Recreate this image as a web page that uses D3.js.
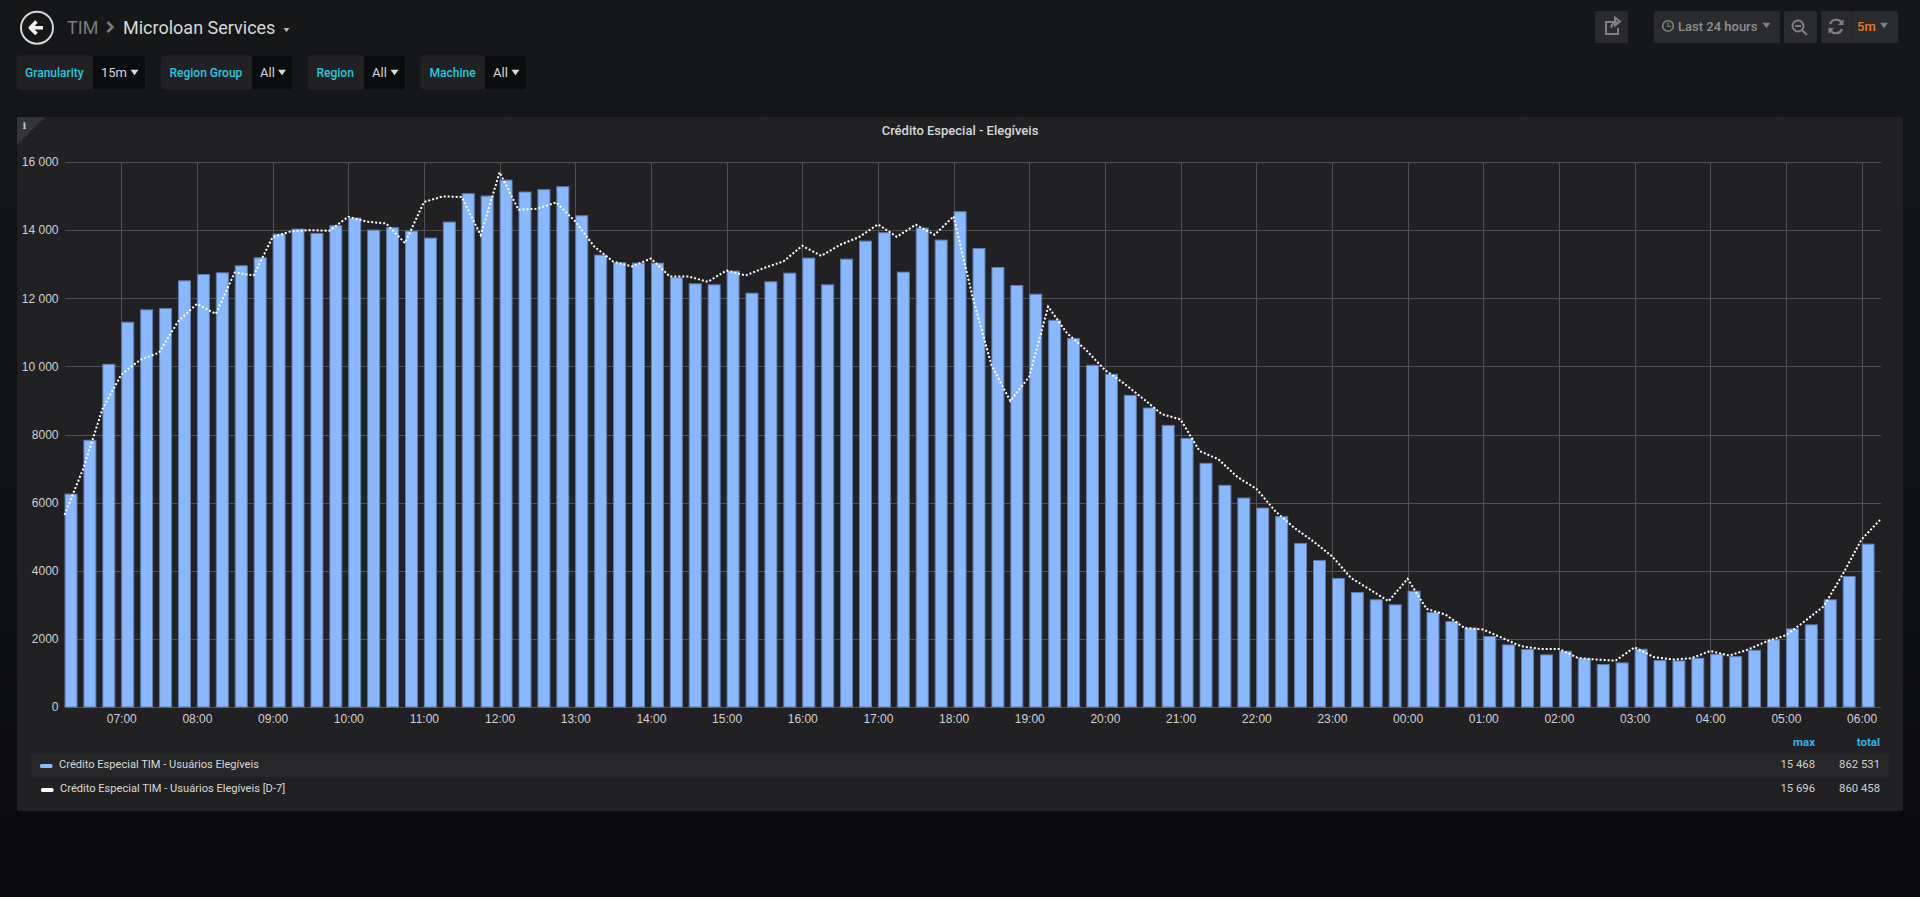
<!DOCTYPE html>
<html lang="en">
<head>
<meta charset="UTF-8">
<title>Crédito Especial - Elegíveis</title>
<script src="https://cdnjs.cloudflare.com/ajax/libs/d3/7.8.5/d3.min.js"></script>
<style>
    html, body { margin: 0; padding: 0; background: #0c0d0f; overflow: hidden; }
    body { height: 897px; background: linear-gradient(#161719 0%, #0d0e10 75%, #09090b 100%); }
    svg { display: block; font-family: Roboto, sans-serif; }
    .grid line { stroke: #505052; stroke-width: 1px; shape-rendering: crispEdges; }
    .tick-label { fill: #d0d0d1; font-size: 12px; }
    .legend-text { fill: #d8d8d9; font-size: 11.1px; }
    .legend-value { fill: #d0d0d1; font-size: 11.3px; }
</style>
</head>
<body>
<svg id="chart" width="1920" height="897"></svg>
<script>
// 15 min buckets, first one at 06:15
const startTime = new Date(2019, 0, 1, 6, 15);
const endTime = new Date(2019, 0, 2, 6, 15);

const eligibleUsers = [
    6250, 7830, 10061, 11296, 11659, 11698, 12511, 12697, 12746, 12952, 13187, 13883,
    14030, 13903, 14128, 14354, 14000, 14069, 13971, 13766, 14236, 15069, 15000, 15468,
    15118, 15187, 15275, 14422, 13266, 13040, 13030, 13030, 12600, 12423, 12394, 12795,
    12149, 12482, 12737, 13178, 12394, 13148, 13677, 13922, 12766, 14060, 13707, 14540,
    13461, 12902, 12373, 12118, 11354, 10815, 10031, 9766, 9149, 8777, 8267, 7885,
    7154, 6507, 6135, 5841, 5586, 4802, 4302, 3773, 3361, 3146, 2999, 3400,
    2773, 2509, 2313, 2068, 1823, 1686, 1529, 1637, 1421, 1245, 1294, 1695,
    1362, 1352, 1431, 1548, 1480, 1666, 1970, 2293, 2411, 3146, 3832, 4782
];

const eligibleUsersD7 = [
    5640, 7010, 8740, 9757, 10190, 10404, 11316, 11835, 11541, 12756, 12668, 13795,
    13971, 14000, 13981, 14393, 14246, 14197, 13619, 14824, 14991, 14971, 13854, 15696,
    14599, 14628, 14814, 14256, 13521, 13080, 12933, 13168, 12639, 12639, 12482, 12815,
    12668, 12893, 13080, 13540, 13246, 13570, 13795, 14168, 13805, 14158, 13864, 14403,
    12050, 10041, 8982, 9698, 11756, 10972, 10482, 9894, 9502, 9061, 8600, 8443,
    7517, 7272, 6752, 6409, 5753, 5263, 4871, 4430, 3793, 3450, 3107, 3763,
    2881, 2715, 2323, 2274, 2029, 1784, 1705, 1705, 1441, 1392, 1362, 1754,
    1470, 1392, 1431, 1646, 1509, 1686, 1931, 2107, 2519, 2960, 3891, 4920, 5508
];

const yTicks = [0, 2000, 4000, 6000, 8000, 10000, 12000, 14000, 16000];
const seriesNames = ["Crédito Especial TIM - Usuários Elegíveis", "Crédito Especial TIM - Usuários Elegíveis [D-7]"];
const seriesColors = ["#8ab8ff", "#ffffff"];
const legendColumns = ["max", "total"];
const legendMax = ["15 468", "15 696"];
const legendTotal = ["862 531", "860 458"];
const variables = [
    ["Granularity", "15m"],
    ["Region Group", "All"],
    ["Region", "All"],
    ["Machine", "All"]
];

const svg = d3.select("#chart");

// ---- panel
svg.append("rect").attr("x", 17).attr("y", 117).attr("width", 1886).attr("height", 694).attr("rx", 2).attr("fill", "#212124");
svg.append("path").attr("d", "M17 117H45L17 145Z").attr("fill", "#34353a");
svg.append("text").attr("x", 24.5).attr("y", 129).attr("fill", "#c8c8c8").attr("font-size", 10)
    .attr("font-family", "DejaVu Serif").attr("font-weight", "bold").attr("text-anchor", "middle").text("i");
svg.append("text").attr("x", 960).attr("y", 134.5).attr("text-anchor", "middle")
    .attr("fill", "#d8d9da").attr("font-size", 13).attr("font-weight", 500).text("Crédito Especial - Elegíveis");

// ---- scales
const x = d3.scaleTime().domain([startTime, endTime]).range([64.5, 1880.5]);
const y = d3.scaleLinear().domain([0, 16000]).range([707, 162]);
const timeAt = i => d3.timeMinute.offset(startTime, i * 15);
const barWidth = (x(timeAt(1)) - x(timeAt(0))) * 0.66;

// ---- grid + axes
const xAxis = d3.axisBottom(x)
    .ticks(d3.timeHour.every(1))
    .tickFormat(d3.timeFormat("%H:%M"))
    .tickSize(-(y(0) - y(16000)))
    .tickPadding(7);
const xG = svg.append("g").attr("class", "grid").attr("transform", `translate(0,${y(0)})`).call(xAxis);
xG.select(".domain").remove();
xG.selectAll("text").attr("class", "tick-label");

const yAxis = d3.axisLeft(y)
    .tickValues(yTicks)
    .tickFormat(d => d < 10000 ? String(d) : d3.format(",")(d).replace(",", " "))
    .tickSize(-(x(endTime) - x(startTime)))
    .tickPadding(6);
const yG = svg.append("g").attr("class", "grid").attr("transform", `translate(${x(startTime)},0)`).call(yAxis);
yG.select(".domain").remove();
yG.selectAll("text").attr("class", "tick-label");

// ---- bars
svg.selectAll("rect.bar")
    .data(eligibleUsers)
    .join("rect")
    .attr("class", "bar")
    .attr("x", (d, i) => x(timeAt(i)) + 0.5)
    .attr("y", d => y(d))
    .attr("width", barWidth - 0.5)
    .attr("height", d => y(0) - y(d))
    .attr("fill", seriesColors[0])
    .attr("stroke", "#5f7dac")
    .attr("stroke-width", 1);

// ---- D-7 line
const line = d3.line().x((d, i) => x(timeAt(i))).y(d => y(d));
svg.append("path")
    .attr("d", line(eligibleUsersD7))
    .attr("fill", "none")
    .attr("stroke", seriesColors[1])
    .attr("stroke-width", 2)
    .attr("stroke-dasharray", "2,2");

// ---- legend
svg.append("rect").attr("x", 30).attr("y", 753).attr("width", 1860).attr("height", 24).attr("fill", "#262628");
legendColumns.forEach((c, i) => {
    svg.append("text").attr("x", [1815, 1880][i]).attr("y", 746).attr("text-anchor", "end")
        .attr("fill", "#33b5e5").attr("font-size", 11.5).attr("font-weight", 700).text(c);
});
seriesNames.forEach((name, i) => {
    const cy = 765 + i * 24;
    svg.append("rect").attr("x", 40 + i).attr("y", cy - 1).attr("width", 12.5).attr("height", 4).attr("rx", 1.5).attr("fill", seriesColors[i]);
    svg.append("text").attr("class", "legend-text").attr("x", 59 + i).attr("y", cy + 3).text(name);
    svg.append("text").attr("class", "legend-value").attr("x", 1815).attr("y", cy + 3).attr("text-anchor", "end").text(legendMax[i]);
    svg.append("text").attr("class", "legend-value").attr("x", 1880).attr("y", cy + 3).attr("text-anchor", "end").text(legendTotal[i]);
});

// ---- top bar
function caret(cx, cy, w, color) {
    svg.append("path").attr("d", `M${cx - w / 2} ${cy - w / 3}H${cx + w / 2}L${cx} ${cy + w / 3}Z`).attr("fill", color);
}

svg.append("circle").attr("cx", 37).attr("cy", 27.7).attr("r", 16).attr("fill", "none").attr("stroke", "#d8d9da").attr("stroke-width", 2);
svg.append("path").attr("d", "M43 27.7H31M36.5 21.5L30.3 27.7L36.5 34").attr("fill", "none").attr("stroke", "#f0f0f0").attr("stroke-width", 3.6).attr("stroke-linejoin", "round");
svg.append("text").attr("x", 67).attr("y", 33.5).attr("fill", "#7b7b7b").attr("font-size", 18).text("TIM");
svg.append("path").attr("d", "M107.5 22L112.5 27L107.5 32").attr("fill", "none").attr("stroke", "#7b7b7b").attr("stroke-width", 2.6);
svg.append("text").attr("x", 123).attr("y", 33.5).attr("fill", "#d8d9da").attr("font-size", 18).text("Microloan Services");
caret(286.5, 30, 6, "#b8b8b8");

// template variables
const varBoxes = [[16.5, 93, 145], [161, 252, 292.5], [308, 364, 405], [421, 485, 526]];
const varValueX = [101, 260, 372, 493];
const varCaretX = [134.5, 282, 394.5, 515.5];
variables.forEach((v, i) => {
    const b = varBoxes[i];
    svg.append("rect").attr("x", b[0]).attr("y", 55.5).attr("width", b[2] - b[0]).attr("height", 34).attr("rx", 3).attr("fill", "#212124").attr("stroke", "#1b1c1e");
    svg.append("path").attr("d", `M${b[1]} 55.5H${b[2] - 3}Q${b[2]} 55.5 ${b[2]} 58.5V86.5Q${b[2]} 89.5 ${b[2] - 3} 89.5H${b[1]}Z`).attr("fill", "#0b0c0e");
    svg.append("text").attr("x", b[0] + 8.5).attr("y", 76.5).attr("fill", "#2bc8dc").attr("font-size", 12).attr("font-weight", 500).text(v[0]);
    svg.append("text").attr("x", varValueX[i]).attr("y", 77).attr("fill", "#d8d9da").attr("font-size", 13).text(v[1]);
    caret(varCaretX[i], 72.5, 8, "#d8d9da");
});

// right hand buttons
[[1595, 33], [1654, 126], [1784, 33], [1821, 77]].forEach(b => {
    svg.append("rect").attr("x", b[0]).attr("y", 11).attr("width", b[1]).attr("height", 32).attr("rx", 2).attr("fill", "#2a2b2e");
});
const iconColor = "#808080";
svg.append("path").attr("d", "M1616 22H1606V34H1618V28M1611 28Q1612 22 1618 22M1615 17.5L1620 21.5L1615 25.5Z")
    .attr("fill", "none").attr("stroke", iconColor).attr("stroke-width", 2);
svg.append("circle").attr("cx", 1668).attr("cy", 26).attr("r", 5.3).attr("fill", "none").attr("stroke", iconColor).attr("stroke-width", 1.6);
svg.append("path").attr("d", "M1668 22.5V26.5H1671").attr("fill", "none").attr("stroke", iconColor).attr("stroke-width", 1.2);
svg.append("text").attr("x", 1678).attr("y", 31).attr("fill", "#8e8e8e").attr("font-size", 13).attr("font-weight", 500).text("Last 24 hours");
caret(1766.5, 25.5, 8, iconColor);
svg.append("circle").attr("cx", 1798).attr("cy", 26).attr("r", 5.5).attr("fill", "none").attr("stroke", iconColor).attr("stroke-width", 2);
svg.append("path").attr("d", "M1795 26H1801M1802 30L1807 35").attr("fill", "none").attr("stroke", iconColor).attr("stroke-width", 2);
svg.append("path").attr("d", "M1830 24A6.5 6.5 0 0 1 1842 23.5M1842 29A6.5 6.5 0 0 1 1830 29.5").attr("fill", "none").attr("stroke", iconColor).attr("stroke-width", 2.2);
svg.append("path").attr("d", "M1843.5 19V25H1838ZM1828.5 34V28H1834Z").attr("fill", iconColor);
svg.append("rect").attr("x", 1851.5).attr("y", 11).attr("width", 1).attr("height", 32).attr("fill", "#262628");
svg.append("text").attr("x", 1857).attr("y", 31).attr("fill", "#eb7b18").attr("font-size", 13).attr("font-weight", 500).text("5m");
caret(1884, 25.5, 8, iconColor);
</script>
</body>
</html>
